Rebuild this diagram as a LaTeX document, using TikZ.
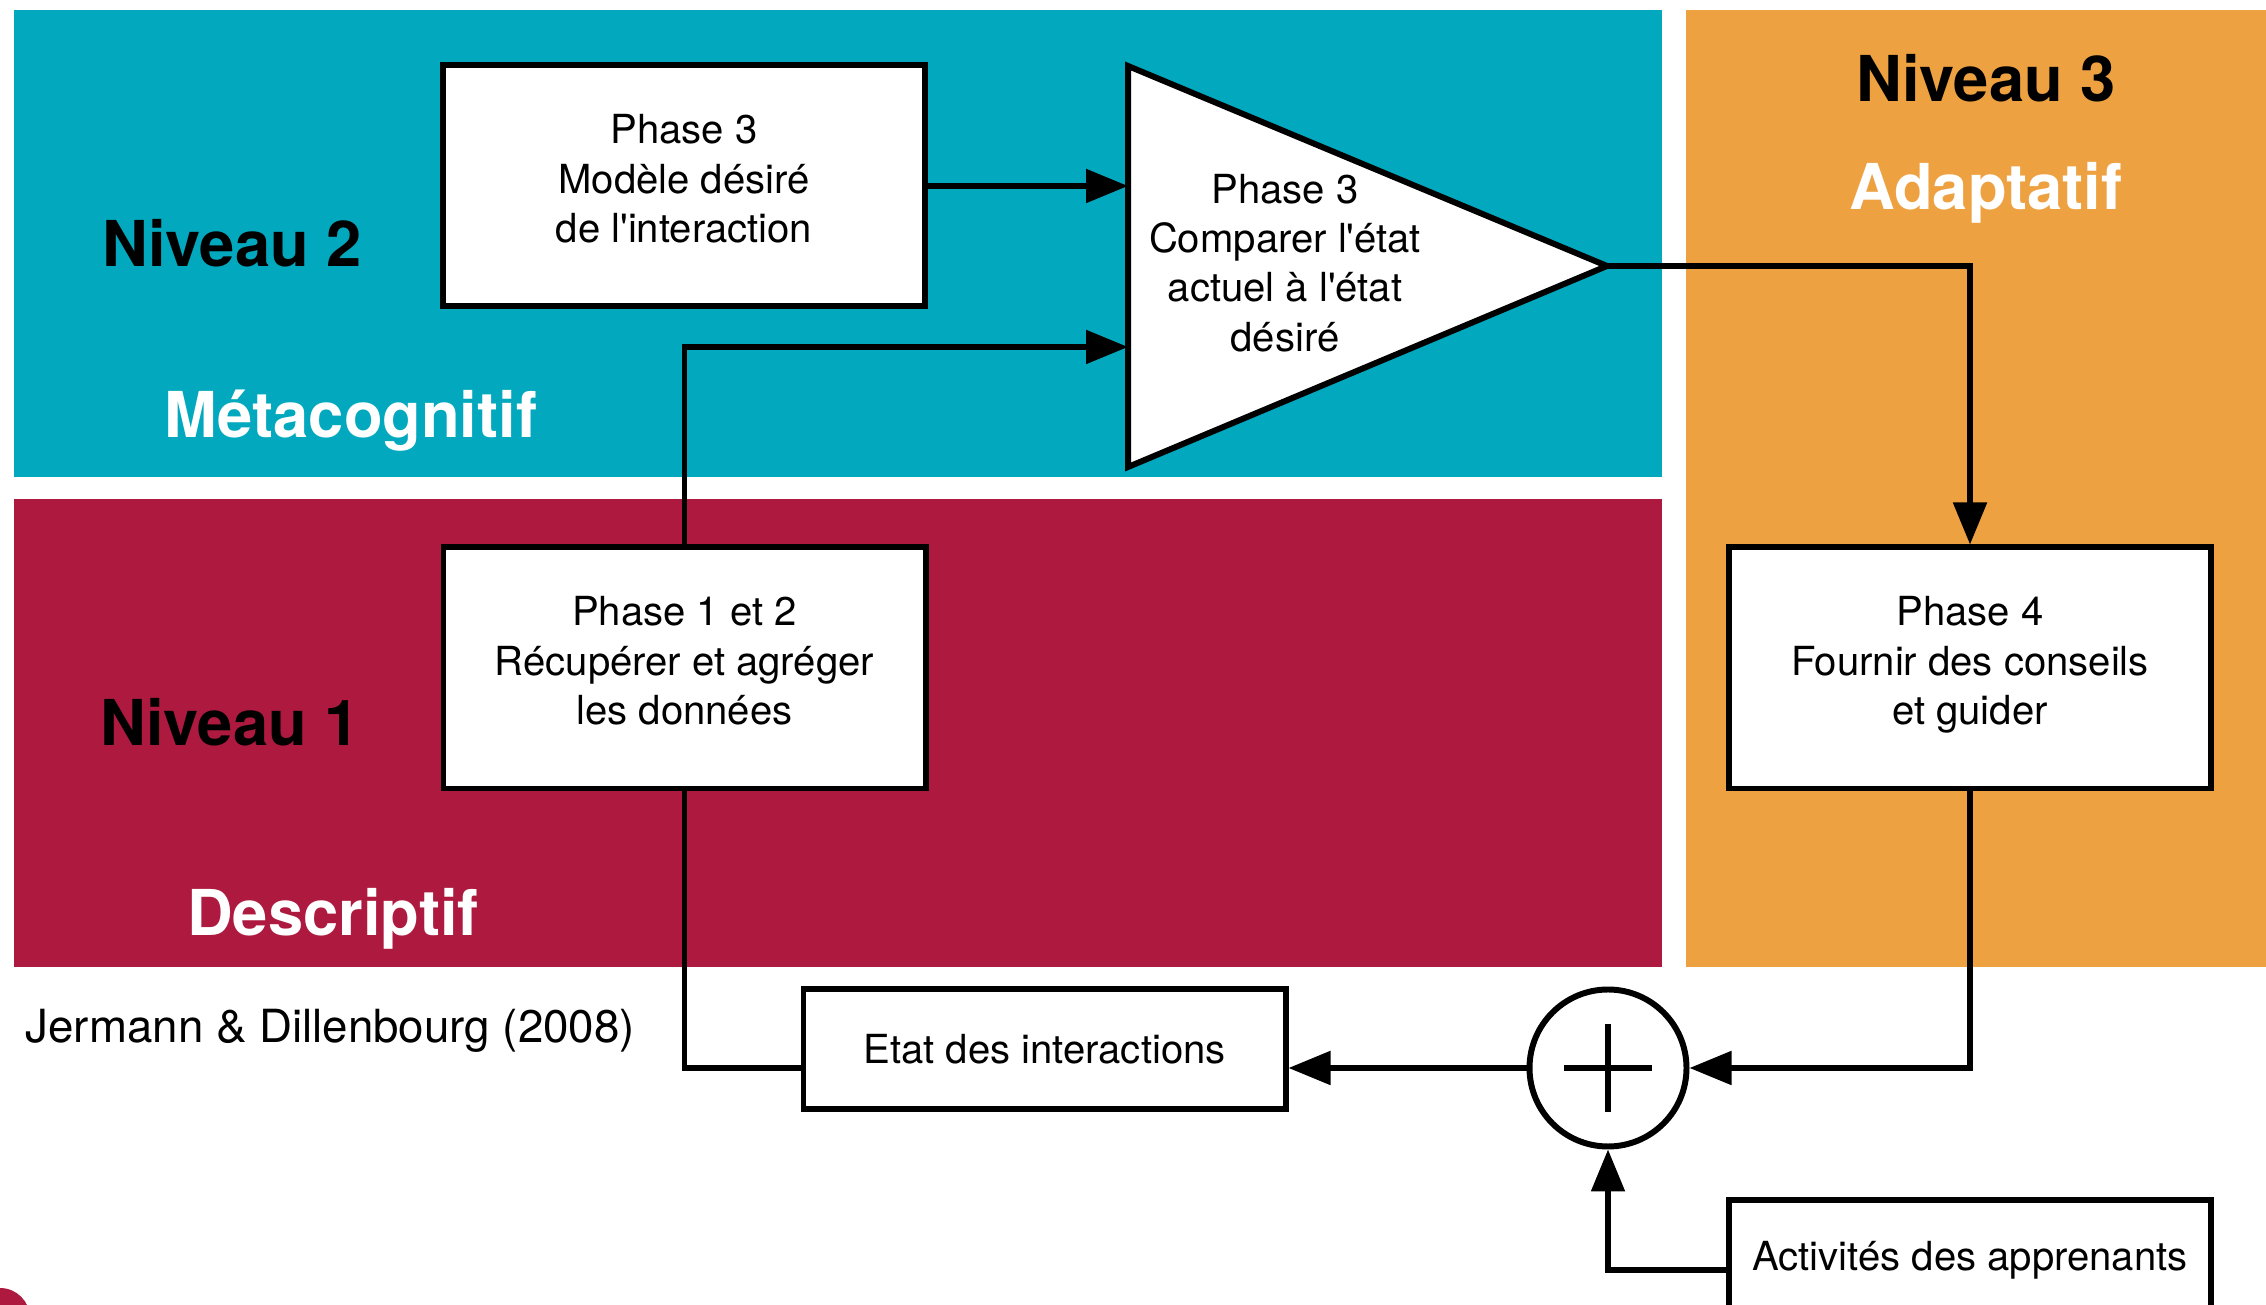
\documentclass[tikz,border=0pt]{standalone}
\usepackage{fontspec}
\setmainfont{TeX Gyre Heros}
\usetikzlibrary{arrows.meta,positioning}
\definecolor{bleuMeta}{RGB}{2,169,190}
\definecolor{rougeDesc}{RGB}{174,26,63}
\definecolor{orangeAdapt}{RGB}{238,161,64}
\newcommand{\apos}{\textquotesingle}
\tikzset{
	bloc/.style={draw, line width=1.7pt, fill=white, minimum width=4.82cm, minimum height=2.41cm, inner sep=0pt, align=center, font=\fontsize{11.4}{14}\selectfont},
	bloctexte/.style={bloc, text depth=0.15cm},
	fleche/.style={line width=1.5pt, -{Triangle[length=4.2mm,width=3.3mm]}},
	lien/.style={line width=1.5pt},
	niveau/.style={anchor=base, font=\fontsize{18}{20}\selectfont\bfseries},
}
\begin{document}
\begin{tikzpicture}
\useasboundingbox (0,0) rectangle (22.66,13.05);
\clip (0,0) rectangle (22.66,13.05);
% bandes de couleur
\fill[bleuMeta] (0.14,12.95) rectangle (16.62,8.28);
\fill[rougeDesc] (0.14,8.06) rectangle (16.62,3.38);
\fill[orangeAdapt] (16.86,12.95) rectangle (22.66,3.38);
\fill[rougeDesc] (0,-0.13) circle (0.30);

\node[niveau] (niv2) at (2.32,10.38) {Niveau 2};
\node[niveau, white] (meta) at (3.51,8.67) {Métacognitif};
\node[niveau] (niv1) at (2.30,5.59) {Niveau 1};
\node[niveau, white] (descr) at (3.33,3.69) {Descriptif};
\node[niveau] (niv3) at (19.86,12.03) {Niveau 3};
\node[niveau, white] (adapt) at (19.86,10.95) {Adaptatif};
\node[anchor=base west, inner sep=0pt, font=\fontsize{13}{15}\selectfont] (source) at (0.25,2.62) {Jermann \& Dillenbourg (2008)};

\node[bloctexte] (modele) at (6.84,11.19) {Phase 3\\Modèle désiré\\de l\apos interaction};
\node[bloctexte] (recup) at (6.845,6.37) {Phase 1 et 2\\Récupérer et agréger\\les données};
\node[bloctexte] (conseil) at (19.70,6.37) {Phase 4\\Fournir des conseils\\et guider};
\node[bloc, minimum height=1.20cm] (etat) at (10.445,2.56) {Etat des interactions};
\node[bloc, minimum height=1.20cm] (activ) at (19.70,0.45) {Activités des apprenants};

% comparateur
\coordinate (triA) at (11.28,12.39);
\coordinate (triB) at (11.28,8.38);
\coordinate (triC) at (16.07,10.39);
\coordinate (entreeA) at (11.28,11.19);
\coordinate (entreeB) at (11.28,9.58);
\filldraw[fill=white, line width=1.7pt] (triA) -- (triC) -- (triB) -- cycle;
\node[align=center, font=\fontsize{11.4}{14}\selectfont] (compar) at (12.85,10.42) {Phase 3\\Comparer l\apos état\\actuel à l\apos état\\désiré};

\node[draw, circle, line width=1.7pt, fill=white, minimum size=1.57cm] (somme) at (16.08,2.37) {};
\draw[lien] ([xshift=-0.44cm]somme.center) -- ([xshift=0.44cm]somme.center);
\draw[lien] ([yshift=-0.44cm]somme.center) -- ([yshift=0.44cm]somme.center);

\draw[fleche] (modele.east) -- (entreeA);
\draw[fleche] (recup.north) |- (entreeB);
\draw[fleche] (triC) -| (conseil.north);
\draw[fleche] (conseil.south) |- (somme.east);
\draw[fleche] (somme.west) -- (somme.west -| etat.east);
\draw[lien] (somme.west -| etat.west) -| (recup.south);
\draw[fleche] ([yshift=-0.1cm]activ.west) -| (somme.south);
\end{tikzpicture}
\end{document}
